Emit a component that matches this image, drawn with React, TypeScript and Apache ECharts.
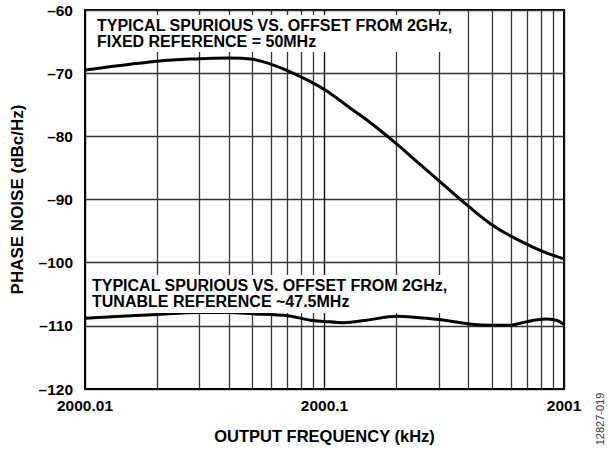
import React, { useEffect, useRef } from "react";
import * as echarts from "echarts";

const xTickLabels = ["2000.01", "2000.1", "2001"];
const minorGridOffsets = [0.02, 0.03, 0.04, 0.05, 0.06, 0.07, 0.08, 0.09, 0.2, 0.3, 0.4, 0.5, 0.6, 0.7, 0.8, 0.9];

const fixedOffsets = [0.01, 0.02, 0.03, 0.04, 0.05, 0.06, 0.07, 0.087, 0.1, 0.13, 0.16, 0.2, 0.25, 0.3, 0.4, 0.5, 0.6, 0.8, 1];
const fixedValues = [-69.5, -68.1, -67.7, -67.6, -67.8, -68.6, -69.6, -71.3, -72.6, -75.7, -78.2, -81.2, -84.4, -87.0, -91.1, -94.0, -95.8, -98.1, -99.4];

const tunableOffsets = [0.01, 0.02, 0.03, 0.04, 0.05, 0.07, 0.087, 0.1, 0.12, 0.15, 0.2, 0.23, 0.3, 0.4, 0.5, 0.6, 0.655, 0.75, 0.85, 0.944, 1];
const tunableValues = [-108.8, -108.2, -107.9, -107.9, -108.1, -108.4, -109.1, -109.3, -109.5, -109.1, -108.5, -108.6, -109.0, -109.7, -109.9, -109.9, -109.6, -109.1, -108.9, -109.2, -109.8];

const fixedLabel = ["TYPICAL SPURIOUS VS. OFFSET FROM 2GHz,", "FIXED REFERENCE = 50MHz"];
const tunableLabel = ["TYPICAL SPURIOUS VS. OFFSET FROM 2GHz,", "TUNABLE REFERENCE ~47.5MHz"];

const FONT = "'Liberation Sans', Arial, Helvetica, sans-serif";

export default function App() {
  const ref = useRef<HTMLDivElement>(null);
  useEffect(() => {
    if (!ref.current) return;
    const chart = echarts.init(ref.current, undefined, { renderer: "svg" });
    const textStyleBase = { fontFamily: FONT, fontWeight: "bold", fontSize: 16, fill: "#000" };
    chart.setOption({
      animation: false,
      backgroundColor: "#fff",
      grid: {
        left: 85,
        right: 49,
        top: 10,
        bottom: 56,
        show: true,
        borderColor: "#000",
        borderWidth: 2,
        backgroundColor: "transparent",
      },
      xAxis: {
        type: "log",
        logBase: 10,
        min: 0.01,
        max: 1,
        name: "OUTPUT FREQUENCY (kHz)",
        nameLocation: "middle",
        nameGap: 38,
        nameTextStyle: { fontFamily: FONT, fontWeight: "bold", fontSize: 16.5, color: "#000" },
        axisLine: { show: true, lineStyle: { color: "#000", width: 2 } },
        axisTick: { show: false },
        axisLabel: {
          fontFamily: FONT,
          fontWeight: "bold",
          fontSize: 15.5,
          color: "#000",
          margin: 8,
          formatter: (v: number) => {
            const idx = Math.round(Math.log10(v)) + 2;
            return xTickLabels[idx] ?? "";
          },
        },
        splitLine: { show: true, lineStyle: { color: "#111", width: 1.4 } },
      },
      yAxis: {
        type: "value",
        min: -120,
        max: -60,
        interval: 10,
        name: "PHASE NOISE (dBc/Hz)",
        nameLocation: "middle",
        nameGap: 59,
        nameTextStyle: { fontFamily: FONT, fontWeight: "bold", fontSize: 17, color: "#000" },
        axisLine: { show: true, lineStyle: { color: "#000", width: 2 } },
        axisTick: { show: false },
        axisLabel: {
          fontFamily: FONT,
          fontWeight: "bold",
          fontSize: 15.5,
          color: "#000",
          margin: 12,
          formatter: (v: number) => String(v).replace("-", "\u2013"),
        },
        splitLine: { show: true, lineStyle: { color: "#333", width: 1.3 } },
      },
      series: [
        {
          type: "line",
          name: "minor",
          z: 1,
          data: [[0.01, -120]],
          symbol: "none",
          lineStyle: { opacity: 0 },
          silent: true,
          markLine: {
            z: 1,
            silent: true,
            symbol: ["none", "none"],
            label: { show: false },
            lineStyle: { color: "#333", width: 1.3, type: "solid" },
            data: minorGridOffsets.map((x) => ({ xAxis: x })),
          },
        },
        {
          type: "line",
          name: "fixed",
          z: 30,
          data: fixedOffsets.map((x, i) => [x, fixedValues[i]]),
          smooth: 0.4,
          symbol: "none",
          lineStyle: { color: "#000", width: 3 },
        },
        {
          type: "line",
          name: "tunable",
          z: 30,
          data: tunableOffsets.map((x, i) => [x, tunableValues[i]]),
          smooth: 0.3,
          symbol: "none",
          lineStyle: { color: "#000", width: 3 },
        },
      ],
      graphic: [
        { type: "rect", zlevel: 1, z: 20, shape: { x: 87, y: 15, width: 371, height: 37 }, style: { fill: "#fff" } },
        { type: "text", zlevel: 1, z: 21, x: 97, y: 25, style: { ...textStyleBase, text: fixedLabel[0], verticalAlign: "middle" } },
        { type: "text", zlevel: 1, z: 21, x: 97, y: 41, style: { ...textStyleBase, text: fixedLabel[1], verticalAlign: "middle" } },
        { type: "rect", zlevel: 1, z: 20, shape: { x: 87, y: 275, width: 365, height: 38 }, style: { fill: "#fff" } },
        { type: "text", zlevel: 1, z: 21, x: 92, y: 285, style: { ...textStyleBase, text: tunableLabel[0], verticalAlign: "middle" } },
        { type: "text", zlevel: 1, z: 21, x: 92, y: 301, style: { ...textStyleBase, text: tunableLabel[1], verticalAlign: "middle" } },
        {
          type: "text",
          zlevel: 1,
          z: 21,
          x: 600,
          y: 419,
          rotation: Math.PI / 2,
          style: {
            text: "12827-019",
            fontFamily: FONT,
            fontSize: 11,
            fill: "#333",
            align: "center",
            verticalAlign: "middle",
          },
        },
      ],
    });
    return () => chart.dispose();
  }, []);
  return <div ref={ref} style={{ width: 613, height: 449, position: "absolute", left: 0, top: 0 }} />;
}
